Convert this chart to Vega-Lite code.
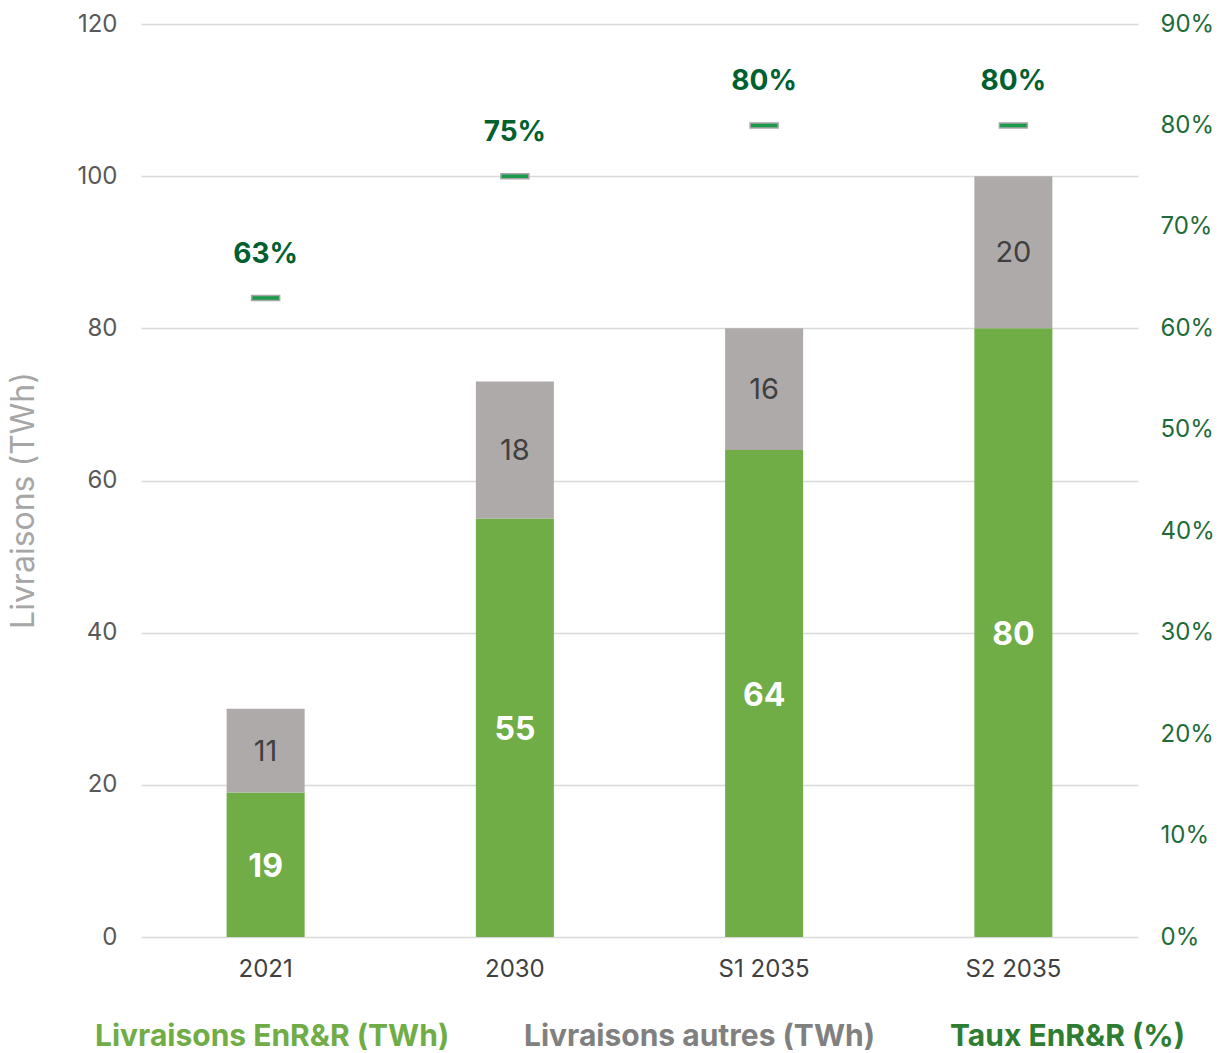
{
  "$schema": "https://vega.github.io/schema/vega-lite/v6.json",
  "width": 997,
  "height": 913,
  "autosize": {"type": "none"},
  "padding": {"left": 141, "top": 24, "right": 81, "bottom": 116},
  "background": "white",
  "config": {
    "font": "Inter",
    "view": {"stroke": null}
  },
  "datasets": {
    "bars": [
      {"cat": "2021", "type": "Livraisons EnR&R (TWh)", "value": 19, "ord": 1},
      {"cat": "2021", "type": "Livraisons autres (TWh)", "value": 11, "ord": 2},
      {"cat": "2030", "type": "Livraisons EnR&R (TWh)", "value": 55, "ord": 1},
      {"cat": "2030", "type": "Livraisons autres (TWh)", "value": 18, "ord": 2},
      {"cat": "S1 2035", "type": "Livraisons EnR&R (TWh)", "value": 64, "ord": 1},
      {"cat": "S1 2035", "type": "Livraisons autres (TWh)", "value": 16, "ord": 2},
      {"cat": "S2 2035", "type": "Livraisons EnR&R (TWh)", "value": 80, "ord": 1},
      {"cat": "S2 2035", "type": "Livraisons autres (TWh)", "value": 20, "ord": 2}
    ],
    "taux": [
      {"cat": "2021", "type": "Taux EnR&R (%)", "taux": 0.63},
      {"cat": "2030", "type": "Taux EnR&R (%)", "taux": 0.75},
      {"cat": "S1 2035", "type": "Taux EnR&R (%)", "taux": 0.80},
      {"cat": "S2 2035", "type": "Taux EnR&R (%)", "taux": 0.80}
    ]
  },
  "encoding": {
    "x": {
      "field": "cat",
      "type": "nominal",
      "sort": ["2021", "2030", "S1 2035", "S2 2035"],
      "scale": {"paddingInner": 0.687, "paddingOuter": 0.3435},
      "axis": {
        "title": null,
        "labelAngle": 0,
        "labelFontSize": 24,
        "labelColor": "#404040",
        "labelPadding": 20,
        "ticks": false,
        "domain": false
      }
    }
  },
  "layer": [
    {
      "data": {"name": "bars"},
      "mark": {"type": "bar"},
      "encoding": {
        "y": {
          "field": "value",
          "type": "quantitative",
          "stack": "zero",
          "scale": {"domain": [0, 120], "nice": false},
          "axis": {
            "title": "Livraisons (TWh)",
            "titleFontSize": 32,
            "titleFontWeight": "normal",
            "titleColor": "#A6A6A6",
            "titlePadding": 36,
            "titleY": 476,
            "values": [0, 20, 40, 60, 80, 100, 120],
            "labelFontSize": 24,
            "labelColor": "#595959",
            "labelPadding": 24,
            "ticks": false,
            "domain": false,
            "grid": true,
            "gridColor": "#D9D9D9",
            "gridWidth": 1.5
          }
        },
        "order": {"field": "ord", "type": "quantitative"},
        "color": {
          "field": "type",
          "type": "nominal",
          "scale": {
            "domain": ["Livraisons EnR&R (TWh)", "Livraisons autres (TWh)", "Taux EnR&R (%)"],
            "range": ["#70AD47", "#AEAAAA", "#1B9A4B"]
          },
          "legend": {
            "title": null,
            "orient": "none",
            "direction": "horizontal",
            "legendX": -76,
            "legendY": 998,
            "symbolSize": 0,
            "symbolOpacity": 0,
            "symbolStrokeWidth": 0,
            "labelOffset": 0,
            "columnPadding": 44,
            "labelFontSize": 30,
            "labelFontWeight": "bold",
            "labelLimit": 500,
            "labelColor": {"expr": "datum.value === 'Livraisons EnR&R (TWh)' ? '#70AD47' : datum.value === 'Livraisons autres (TWh)' ? '#808080' : '#2E7D32'"}
          }
        }
      }
    },
    {
      "layer": [
        {
          "data": {"name": "bars"},
          "transform": [
            {"fold": ["value", "value"], "as": ["copy", "vv"]},
            {"stack": "vv", "groupby": ["cat"], "sort": [{"field": "ord"}], "as": ["s0", "s1"]},
            {"filter": "datum.ord === 1"}
          ],
          "mark": {"type": "text", "fontSize": 32, "fontWeight": "bold", "color": "white", "dy": 2},
          "encoding": {
            "y": {"aggregate": "min", "field": "s1", "type": "quantitative", "scale": {"domain": [0, 240], "nice": false}, "axis": null},
            "text": {"field": "value", "type": "quantitative"}
          }
        },
        {
          "data": {"name": "bars"},
          "transform": [
            {"fold": ["value", "value"], "as": ["copy", "vv"]},
            {"stack": "vv", "groupby": ["cat"], "sort": [{"field": "ord"}], "as": ["s0", "s1"]},
            {"filter": "datum.ord === 2"}
          ],
          "mark": {"type": "text", "fontSize": 29, "fontWeight": "normal", "color": "#404040", "dy": 1},
          "encoding": {
            "y": {"aggregate": "min", "field": "s1", "type": "quantitative", "axis": null},
            "text": {"field": "value", "type": "quantitative"}
          }
        }
      ]
    },
    {
      "layer": [
        {
          "data": {"name": "taux"},
          "mark": {"type": "tick", "size": 28, "thickness": 5, "stroke": "#A6A6A6", "strokeWidth": 1.5, "opacity": 1},
          "encoding": {
            "y": {
              "field": "taux",
              "type": "quantitative",
              "scale": {"domain": [0, 0.9], "nice": false},
              "axis": {
                "orient": "right",
                "title": null,
                "format": ".0%",
                "values": [0, 0.1, 0.2, 0.3, 0.4, 0.5, 0.6, 0.7, 0.8, 0.9],
                "labelFontSize": 24,
                "labelColor": "#1E6B3A",
                "labelPadding": 22,
                "ticks": false,
                "domain": false,
                "grid": false
              }
            },
            "color": {"field": "type", "type": "nominal"}
          }
        },
        {
          "data": {"name": "taux"},
          "mark": {"type": "text", "fontSize": 28, "fontWeight": "bold", "color": "#00602F", "dy": -43},
          "encoding": {
            "y": {"field": "taux", "type": "quantitative"},
            "text": {"field": "taux", "type": "quantitative", "format": ".0%"}
          }
        }
      ]
    }
  ],
  "resolve": {"scale": {"y": "independent"}}
}
